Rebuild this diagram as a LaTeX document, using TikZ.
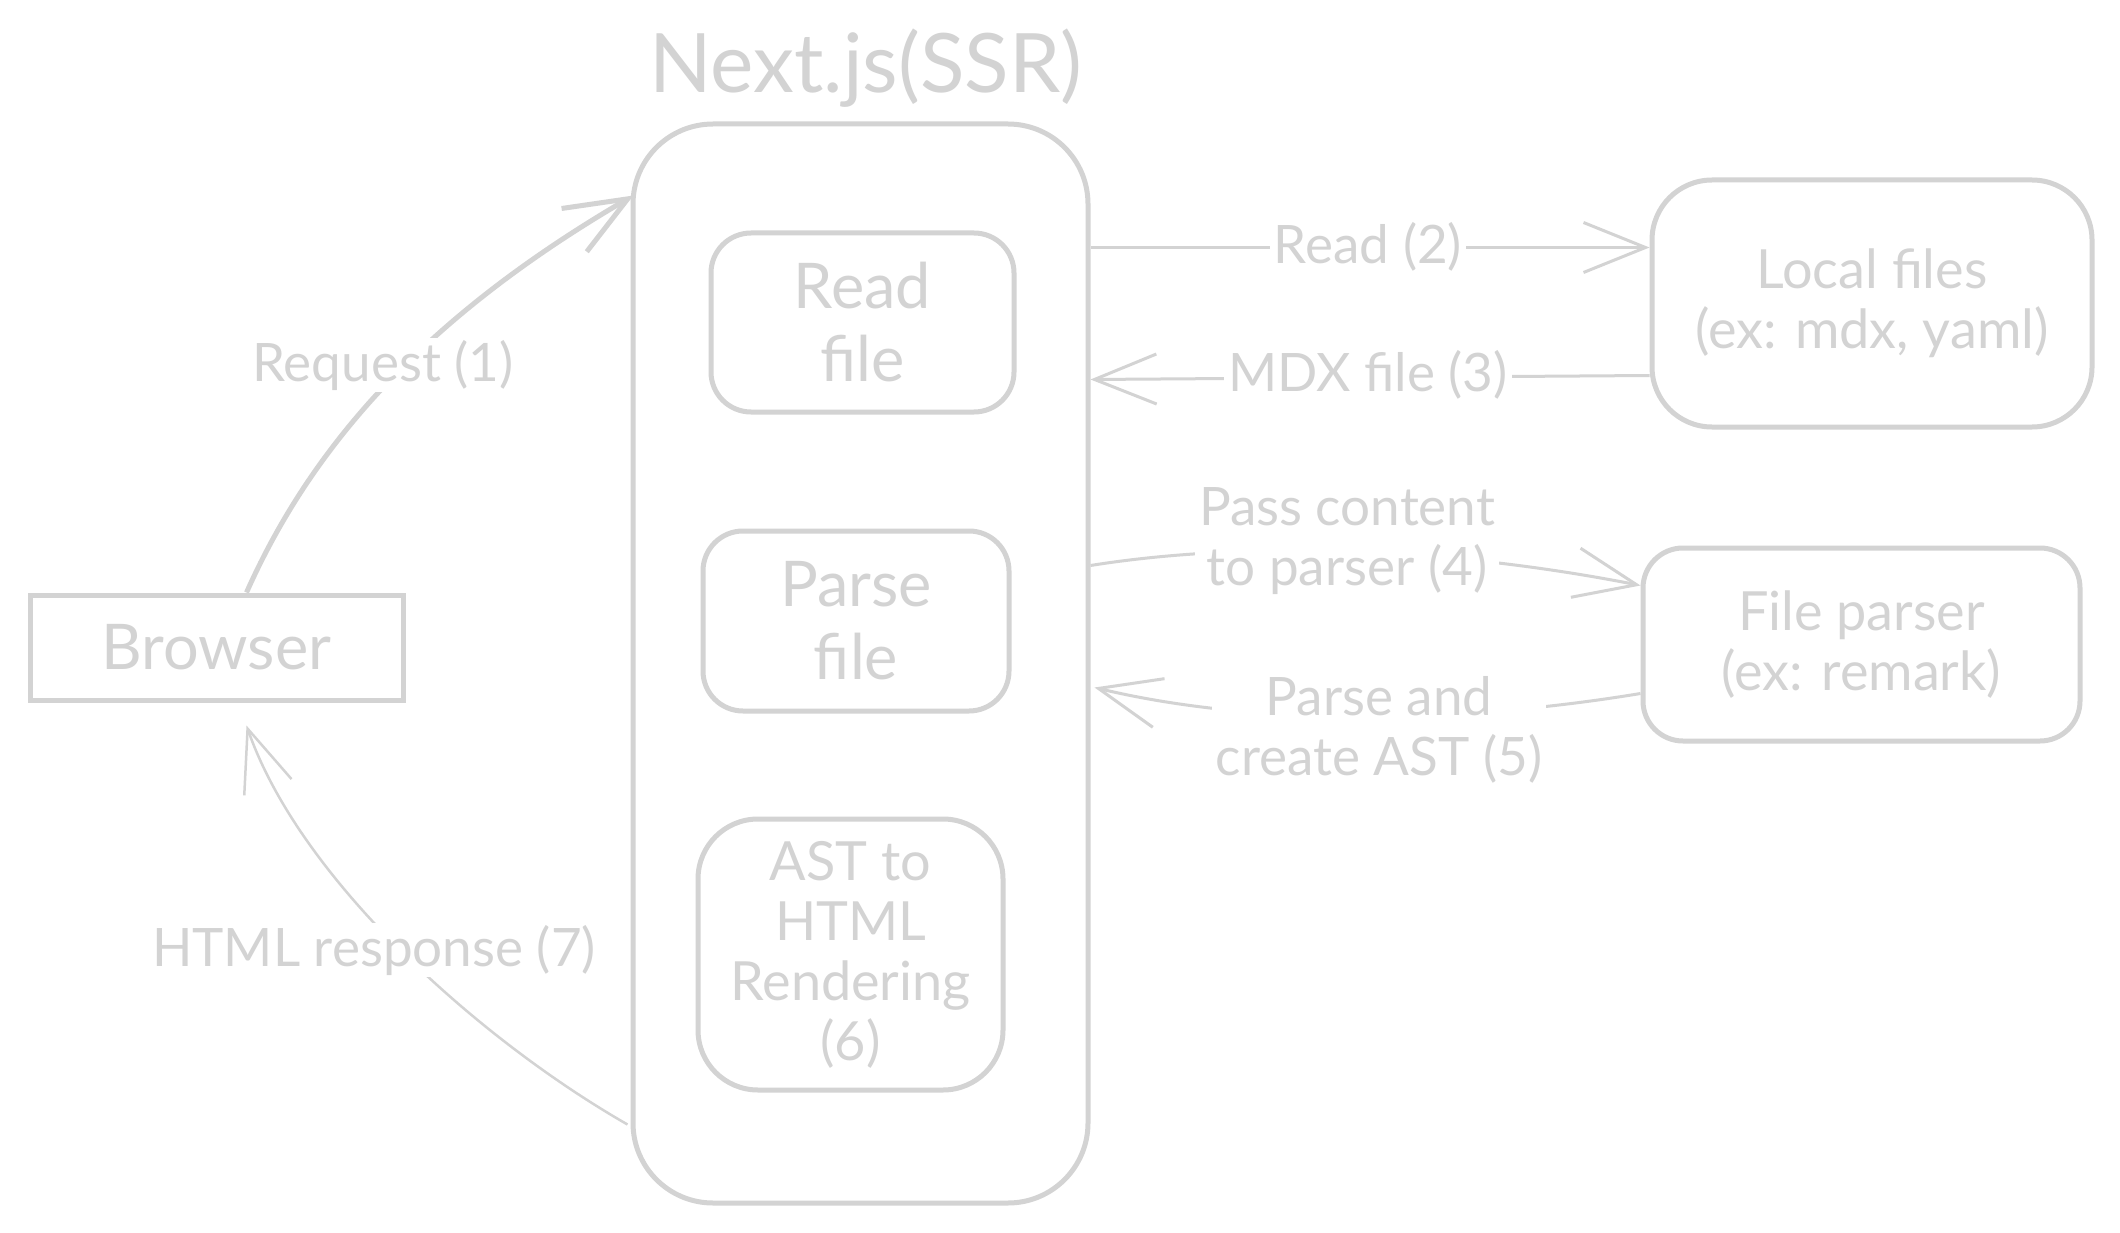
\documentclass[tikz,border=0pt]{standalone}
\usepackage{fontspec}
\setmainfont{Lato}
\usetikzlibrary{arrows.meta}
\definecolor{sk}{RGB}{211,211,211}
\begin{document}
\begin{tikzpicture}[x=1pt,y=-1pt,
  box/.style={draw=sk,line width=5pt,rounded corners=#1,inner sep=0pt,align=center,text=sk},
  bigtxt/.style={font=\fontsize{63}{73}\selectfont},
  smalltxt/.style={font=\fontsize{54}{60}\selectfont},
  lbl/.style={fill=white,text=sk,align=center,inner xsep=4pt,inner ysep=2pt,font=\fontsize{53}{60}\selectfont},
  arr/.style={draw=sk,line width=3pt,-{Straight Barb[length=62pt,width=50pt]}}]
\fill[white] (0,0) rectangle (2120,1233);
\useasboundingbox (0,0) rectangle (2120,1233);

% title
\node[text=sk,font=\fontsize{82}{90}\selectfont] (title) at (866,68) {Next.js(SSR)};

% main container
\node[box=80pt,minimum width=455pt,minimum height=1079pt] (next) at (860.5,663.5) {};
\node[box=40pt,bigtxt,minimum width=303pt,minimum height=179pt] (read) at (862.5,322.5) {Read\\file};
\node[box=40pt,bigtxt,minimum width=306pt,minimum height=180pt] (parse) at (856,621) {Parse\\file};
\node[box=60pt,smalltxt,minimum width=305pt,minimum height=271pt] (ast) at (850.5,954.5) {AST to\\HTML\\Rendering\\(6)};

% outside boxes
\node[box=0pt,bigtxt,minimum width=373pt,minimum height=105pt] (browser) at (216.5,647.5) {Browser};
\node[box=60pt,smalltxt,minimum width=440pt,minimum height=247pt] (local) at (1872,303.5) {Local files\\(ex: mdx, yaml)};
\node[box=40pt,smalltxt,minimum width=437pt,minimum height=193pt] (parser) at (1861.5,644.5) {File parser\\(ex: remark)};

% connectors
\draw[arr,line width=5pt] ([shift={(30,0)}]browser.north) .. controls (310,450) and (420,320) .. ([shift={(3,74)}]next.north west);
\draw[arr] ([shift={(0,126)}]next.north east) -- ([shift={(0,70)}]local.north west);
\draw[arr] ([shift={(0,198)}]local.north west) -- ([shift={(0,258)}]next.north east);
\draw[arr] ([shift={(0,444)}]next.north east) .. controls (1250,540) and (1450,548) .. ([shift={(0,40)}]parser.north west);
\draw[arr] ([shift={(0,148)}]parser.north west) .. controls (1450,725) and (1250,725) .. ([shift={(4,566)}]next.north east);
\draw[arr,line width=2.5pt] ([shift={(-3,-81)}]next.south west) .. controls (480,1040) and (300,880) .. ([shift={(30,23)}]browser.south);

% labels
\node[lbl] (lreq) at (383,365) {Request (1)};
\node[lbl] (lrd) at (1368,247) {Read (2)};
\node[lbl] (lmdx) at (1368,375) {MDX file (3)};
\node[lbl] (lpass) at (1347,541) {Pass content\\to parser (4)};
\node[lbl] (lpac) at (1379,730) {Parse and\\create AST (5)};
\node[lbl] (lhtml) at (374,950) {HTML response (7)};
\end{tikzpicture}
\end{document}
